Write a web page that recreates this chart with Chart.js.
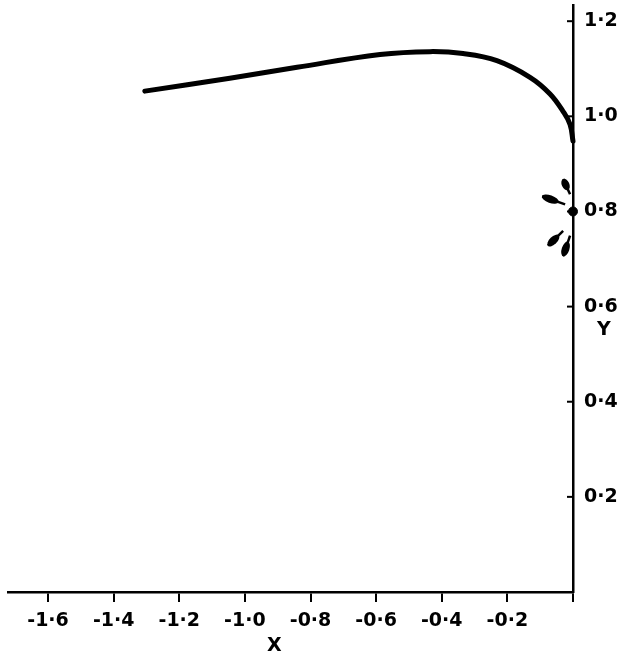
<!DOCTYPE html>
<html>
<head>
<meta charset="utf-8">
<script src="https://cdn.jsdelivr.net/npm/chart.js@4"></script>
<style>
  body { margin: 0; background: #fff; }
  #wrap { width: 633px; height: 660px; }
</style>
</head>
<body>
<div id="wrap"><canvas id="chart" width="633" height="660"></canvas></div>
<script>
// axis ticks and labels
const xTicks = [-1.6, -1.4, -1.2, -1.0, -0.8, -0.6, -0.4, -0.2, 0];
const xTickLabels = ["-1·6", "-1·4", "-1·2", "-1·0", "-0·8", "-0·6", "-0·4", "-0·2", ""];
const yTicks = [0.2, 0.4, 0.6, 0.8, 1.0, 1.2];
const yTickLabels = ["0·2", "0·4", "0·6", "0·8", "1·0", "1·2"];

// main curve
const curveX = [-1.305, -1.046, -0.841, -0.588, -0.436, -0.335, -0.232, -0.131, -0.070, -0.030, -0.009, 0];
const curveY = [1.053, 1.080, 1.103, 1.130, 1.136, 1.132, 1.117, 1.082, 1.047, 1.010, 0.983, 0.948];

// point on the axis and the small arrows around it
const dotX = [0];
const dotY = [0.8];
const arrowTailX = [-0.009, -0.024, -0.030, -0.009];
const arrowTailY = [0.836, 0.815, 0.759, 0.749];
const arrowHeadX = [-0.030, -0.094, -0.076, -0.030];
const arrowHeadY = [0.868, 0.832, 0.728, 0.706];

const FONT = "'DejaVu Sans', sans-serif";

// little arrows, inward y ticks and the axis letters
const extras = {
  id: "extras",
  afterDatasetsDraw(chart) {
    const ctx = chart.ctx;
    const xs = chart.scales.x, ys = chart.scales.y;
    ctx.save();
    ctx.fillStyle = "#000";
    ctx.strokeStyle = "#000";

    // y ticks point into the plot
    ctx.lineWidth = 2;
    yTicks.forEach(v => {
      const py = ys.getPixelForValue(v);
      ctx.beginPath();
      ctx.moveTo(xs.right - 6, py);
      ctx.lineTo(xs.right, py);
      ctx.stroke();
    });

    for (let i = 0; i < arrowTailX.length; i++) {
      const x0 = xs.getPixelForValue(arrowTailX[i]), y0 = ys.getPixelForValue(arrowTailY[i]);
      const x1 = xs.getPixelForValue(arrowHeadX[i]), y1 = ys.getPixelForValue(arrowHeadY[i]);
      const dx = x1 - x0, dy = y1 - y0;
      const len = Math.sqrt(dx * dx + dy * dy);
      ctx.lineWidth = 2.5;
      ctx.beginPath();
      ctx.moveTo(x0, y0);
      ctx.lineTo(x1, y1);
      ctx.stroke();
      ctx.beginPath();
      ctx.ellipse(x0 + dx * 0.65, y0 + dy * 0.65, len * 0.36, 3.8, Math.atan2(dy, dx), 0, Math.PI * 2);
      ctx.fill();
    }

    ctx.font = "bold 19px " + FONT;
    ctx.textAlign = "center";
    ctx.textBaseline = "middle";
    ctx.fillText("Y", xs.right + 31, ys.getPixelForValue(0.55));
    ctx.fillText("X", xs.getPixelForValue(-0.91), 646);
    ctx.restore();
  }
};

const ctx = document.getElementById("chart").getContext("2d");
new Chart(ctx, {
  type: "scatter",
  data: {
    datasets: [
      {
        data: curveX.map((x, i) => ({ x: x, y: curveY[i] })),
        showLine: true,
        borderColor: "#000",
        borderWidth: 5,
        tension: 0.4,
        pointRadius: 0,
        borderCapStyle: "round",
        clip: false
      },
      {
        data: dotX.map((x, i) => ({ x: x, y: dotY[i] })),
        pointRadius: 4.5,
        backgroundColor: "#000",
        borderColor: "#000",
        clip: false
      }
    ]
  },
  plugins: [extras],
  options: {
    responsive: false,
    animation: false,
    layout: { padding: { left: 8, top: 4, right: 0, bottom: 0 } },
    plugins: { legend: { display: false }, tooltip: { enabled: false } },
    scales: {
      x: {
        type: "linear",
        min: -1.722,
        max: 0,
        afterBuildTicks: axis => { axis.ticks = xTicks.map(v => ({ value: v })); },
        afterFit: axis => {
          axis.height = 68;
          axis.paddingLeft = 0;
          axis.paddingRight = 0;
        },
        border: { color: "#000", width: 2.5 },
        grid: { drawOnChartArea: false, color: "#000", lineWidth: 2, tickLength: 10 },
        ticks: {
          color: "#000",
          font: { family: FONT, size: 19, weight: "bold" },
          padding: 8,
          maxRotation: 0,
          callback: (v, i) => xTickLabels[i]
        }
      },
      y: {
        type: "linear",
        position: "right",
        min: 0,
        max: 1.233,
        afterBuildTicks: axis => { axis.ticks = yTicks.map(v => ({ value: v })); },
        afterFit: axis => {
          axis.width = 60;
          axis.paddingTop = 0;
          axis.paddingBottom = 0;
        },
        border: { color: "#000", width: 2.5 },
        grid: { drawOnChartArea: false, drawTicks: false },
        ticks: {
          color: "#000",
          font: { family: FONT, size: 19, weight: "bold" },
          padding: 11,
          callback: (v, i) => yTickLabels[i]
        }
      }
    }
  }
});
</script>
</body>
</html>
